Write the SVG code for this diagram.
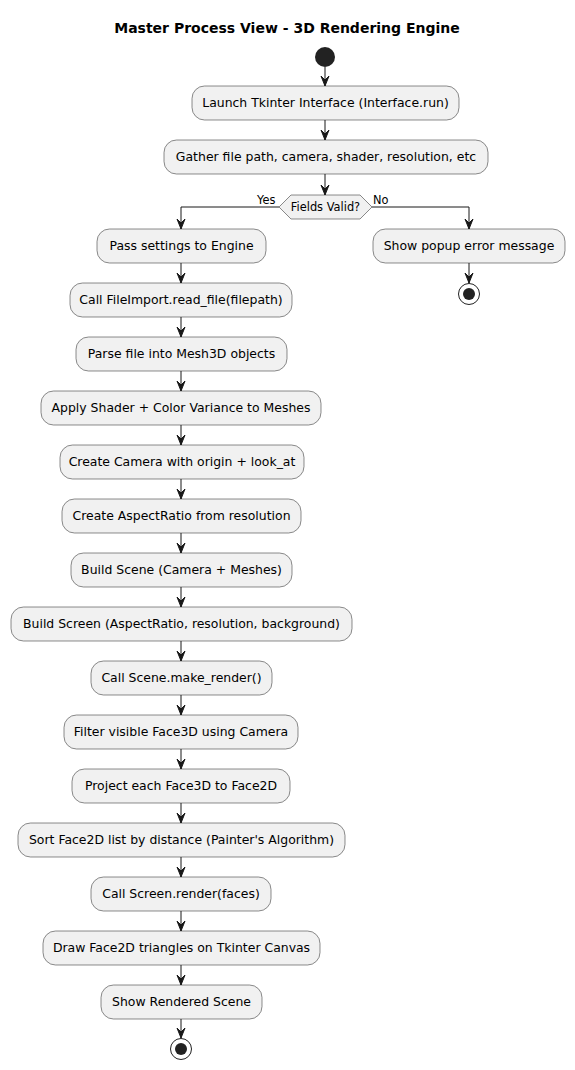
<svg xmlns="http://www.w3.org/2000/svg" width="575" height="1070" viewBox="0 0 575 1070">
<defs>
<style>
.b{fill:#F1F1F1;stroke:#181818;stroke-width:0.5}
.t{font-family:"DejaVu Sans",sans-serif;font-size:12.45px;fill:#000;text-anchor:middle}
.s{font-family:"DejaVu Sans",sans-serif;font-size:11.4px;fill:#000}
.c{fill:none;stroke:#181818;stroke-width:1}
.h{fill:#181818;stroke:#181818;stroke-width:1}
</style>
<marker id="a" viewBox="0 0 10 10" refX="10" refY="5" markerWidth="10" markerHeight="10" markerUnits="userSpaceOnUse" orient="auto">
<path d="M0,1 L10,5 L0,9 L4,5 Z" class="h"/>
</marker>
</defs>
<rect width="575" height="1070" fill="#FFFFFF"/>
<text x="287" y="33" font-family="DejaVu Sans,sans-serif" font-size="14" font-weight="bold" text-anchor="middle">Master Process View - 3D Rendering Engine</text>
<g id="connectors">
<line class="c" x1="325" y1="67" x2="325" y2="86" marker-end="url(#a)"/>
<line class="c" x1="325" y1="120" x2="325" y2="140" marker-end="url(#a)"/>
<line class="c" x1="325" y1="174" x2="325" y2="195" marker-end="url(#a)"/>
<polyline class="c" points="279,207 181,207 181,229" marker-end="url(#a)"/>
<polyline class="c" points="372,207 469,207 469,229" marker-end="url(#a)"/>
<text class="s" x="257" y="204">Yes</text>
<text class="s" x="373" y="204">No</text>
<line class="c" x1="469" y1="263" x2="469" y2="283" marker-end="url(#a)"/>
<line class="c" x1="181" y1="263" x2="181" y2="283" marker-end="url(#a)"/>
<line class="c" x1="181" y1="317" x2="181" y2="337" marker-end="url(#a)"/>
<line class="c" x1="181" y1="371" x2="181" y2="391" marker-end="url(#a)"/>
<line class="c" x1="181" y1="425" x2="181" y2="445" marker-end="url(#a)"/>
<line class="c" x1="181" y1="479" x2="181" y2="499" marker-end="url(#a)"/>
<line class="c" x1="181" y1="533" x2="181" y2="553" marker-end="url(#a)"/>
<line class="c" x1="181" y1="587" x2="181" y2="607" marker-end="url(#a)"/>
<line class="c" x1="181" y1="641" x2="181" y2="661" marker-end="url(#a)"/>
<line class="c" x1="181" y1="695" x2="181" y2="715" marker-end="url(#a)"/>
<line class="c" x1="181" y1="749" x2="181" y2="769" marker-end="url(#a)"/>
<line class="c" x1="181" y1="803" x2="181" y2="823" marker-end="url(#a)"/>
<line class="c" x1="181" y1="857" x2="181" y2="877" marker-end="url(#a)"/>
<line class="c" x1="181" y1="911" x2="181" y2="931" marker-end="url(#a)"/>
<line class="c" x1="181" y1="965" x2="181" y2="985" marker-end="url(#a)"/>
<line class="c" x1="181" y1="1019" x2="181" y2="1038" marker-end="url(#a)"/>
</g>
<g id="start"><circle cx="325" cy="57" r="10" fill="#222222"/></g>
<g id="n1"><rect class="b" x="192" y="86" width="267" height="34" rx="12.5"/><text class="t" x="325.5" y="107">Launch Tkinter Interface (Interface.run)</text></g>
<g id="n2"><rect class="b" x="164" y="140" width="324" height="34" rx="12.5"/><text class="t" x="326" y="161">Gather file path, camera, shader, resolution, etc</text></g>
<g id="decision"><polygon class="b" points="279,207 291,195 360,195 372,207 360,219 291,219"/><text class="s" x="325.5" y="211" text-anchor="middle">Fields Valid?</text></g>
<g id="n3"><rect class="b" x="97" y="229" width="169" height="34" rx="12.5"/><text class="t" x="181.5" y="250">Pass settings to Engine</text></g>
<g id="err"><rect class="b" x="373" y="229" width="192" height="34" rx="12.5"/><text class="t" x="469" y="250">Show popup error message</text></g>
<g id="end1"><circle cx="469" cy="294" r="10.5" fill="none" stroke="#222222" stroke-width="1"/><circle cx="469" cy="294" r="6" fill="#222222"/></g>
<g id="n4"><rect class="b" x="70" y="283" width="222" height="34" rx="12.5"/><text class="t" x="181" y="304">Call FileImport.read_file(filepath)</text></g>
<g id="n5"><rect class="b" x="76" y="337" width="211" height="34" rx="12.5"/><text class="t" x="181.5" y="358">Parse file into Mesh3D objects</text></g>
<g id="n6"><rect class="b" x="41" y="391" width="280" height="34" rx="12.5"/><text class="t" x="181" y="412">Apply Shader + Color Variance to Meshes</text></g>
<g id="n7"><rect class="b" x="60" y="445" width="244" height="34" rx="12.5"/><text class="t" x="182" y="466">Create Camera with origin + look_at</text></g>
<g id="n8"><rect class="b" x="62" y="499" width="239" height="34" rx="12.5"/><text class="t" x="181.5" y="520">Create AspectRatio from resolution</text></g>
<g id="n9"><rect class="b" x="71" y="553" width="221" height="34" rx="12.5"/><text class="t" x="181.5" y="574">Build Scene (Camera + Meshes)</text></g>
<g id="n10"><rect class="b" x="11" y="607" width="341" height="34" rx="12.5"/><text class="t" x="181.5" y="628">Build Screen (AspectRatio, resolution, background)</text></g>
<g id="n11"><rect class="b" x="91" y="661" width="181" height="34" rx="12.5"/><text class="t" x="181.5" y="682">Call Scene.make_render()</text></g>
<g id="n12"><rect class="b" x="64" y="715" width="234" height="34" rx="12.5"/><text class="t" x="181" y="736">Filter visible Face3D using Camera</text></g>
<g id="n13"><rect class="b" x="72" y="769" width="218" height="34" rx="12.5"/><text class="t" x="181" y="790">Project each Face3D to Face2D</text></g>
<g id="n14"><rect class="b" x="18" y="823" width="327" height="34" rx="12.5"/><text class="t" x="181.5" y="844">Sort Face2D list by distance (Painter's Algorithm)</text></g>
<g id="n15"><rect class="b" x="91" y="877" width="180" height="34" rx="12.5"/><text class="t" x="181" y="898">Call Screen.render(faces)</text></g>
<g id="n16"><rect class="b" x="43" y="931" width="277" height="34" rx="12.5"/><text class="t" x="181.5" y="952">Draw Face2D triangles on Tkinter Canvas</text></g>
<g id="n17"><rect class="b" x="101" y="985" width="161" height="34" rx="12.5"/><text class="t" x="181.5" y="1006">Show Rendered Scene</text></g>
<g id="end2"><circle cx="181" cy="1049" r="10.5" fill="none" stroke="#222222" stroke-width="1"/><circle cx="181" cy="1049" r="6" fill="#222222"/></g>
</svg>
